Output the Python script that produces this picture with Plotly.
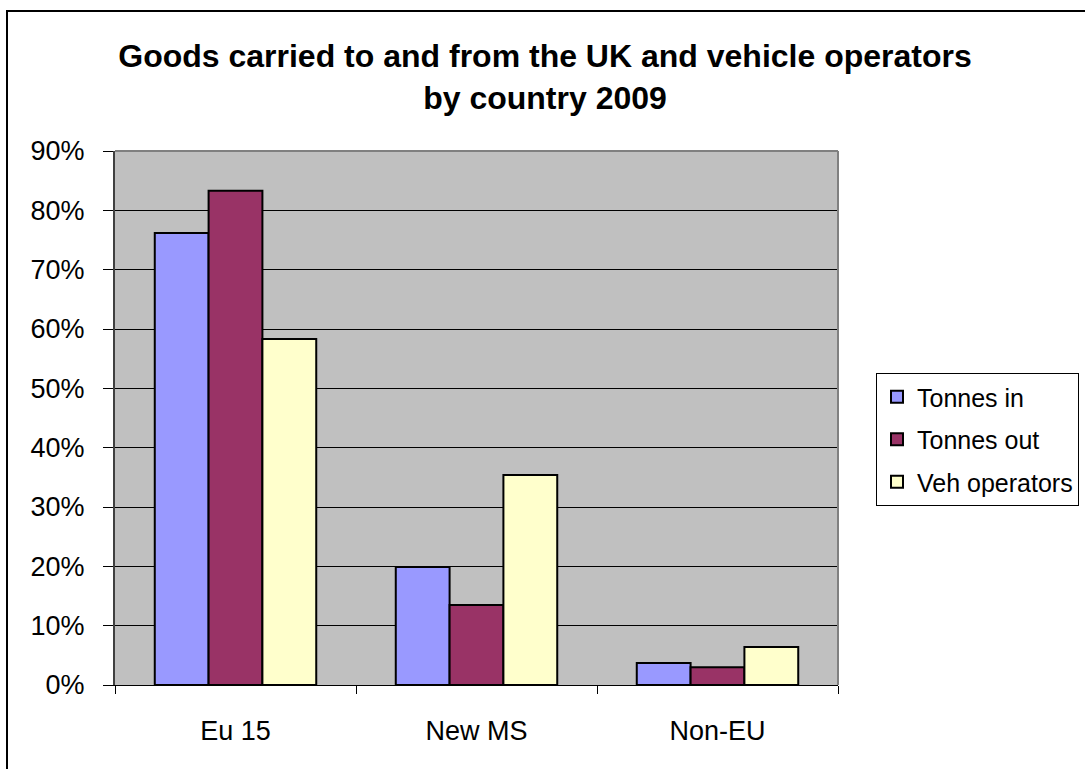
import plotly.graph_objects as go

categories = ["Eu 15", "New MS", "Non-EU"]
tonnes_in = [0.762, 0.199, 0.037]
tonnes_out = [0.833, 0.135, 0.030]
veh_operators = [0.583, 0.354, 0.064]
series_names = ["Tonnes in", "Tonnes out", "Veh operators"]
series_colors = ["#9999FF", "#993366", "#FFFFCC"]

W, H = 1085, 769
L, R, T, B = 115, 838, 151, 685

fig = go.Figure()
for name, vals, col in zip(series_names, [tonnes_in, tonnes_out, veh_operators], series_colors):
    fig.add_trace(go.Bar(
        x=categories, y=vals, name=name, legendgroup=name,
        marker=dict(color=col, line=dict(color="black", width=2)),
    ))

def px2x(px):
    return (px - L) / (R - L)

def py2y(py):
    return (B - py) / (B - T)

FONT = "Arial, Liberation Sans, sans-serif"

fig.update_layout(
    width=W, height=H,
    margin=dict(l=L, r=W - R, t=T, b=H - B, autoexpand=False),
    paper_bgcolor="white",
    plot_bgcolor="#C0C0C0",
    barmode="group",
    bargap=0.33,
    bargroupgap=0,
    font=dict(family=FONT, color="black"),
    title=dict(
        text="<b>Goods carried to and from the UK and vehicle operators<br>by country 2009</b>",
        x=545 / W, xanchor="center", xref="container",
        y=1 - 67 / H, yanchor="middle", yref="container",
        font=dict(size=32, family=FONT, color="black"),
    ),
    legend=dict(
        x=px2x(876), y=py2y(373), xanchor="left", yanchor="top",
        bordercolor="black", borderwidth=1, bgcolor="white",
        font=dict(size=25), tracegroupgap=7,
        traceorder="grouped",
    ),
    xaxis=dict(
        showline=True, linecolor="black", linewidth=1,
        ticks="outside", tickson="boundaries", ticklen=8, tickcolor="black",
        tickfont=dict(size=27), showgrid=False, ticklabelstandoff=22,
    ),
    yaxis=dict(
        range=[0, 0.9], dtick=0.1, tickformat=".0%",
        showline=True, linecolor="#404040", linewidth=2,
        ticks="outside", ticklen=10, tickcolor="black",
        showgrid=True, gridcolor="black", gridwidth=1,
        tickfont=dict(size=27), zeroline=False, ticklabelstandoff=13,
    ),
    showlegend=True,
)

# plot-area border (top and right grey)
fig.add_shape(type="line", xref="paper", yref="paper", x0=0, x1=1, y0=1, y1=1,
              line=dict(color="#808080", width=2))
fig.add_shape(type="line", xref="paper", yref="paper", x0=1, x1=1, y0=0, y1=1,
              line=dict(color="#808080", width=2))
# outer chart border (only left and top edges are visible in the frame)
fig.add_shape(type="line", xref="paper", yref="paper",
              x0=px2x(7), x1=px2x(7), y0=py2y(780), y1=py2y(10),
              line=dict(color="black", width=2))
fig.add_shape(type="line", xref="paper", yref="paper",
              x0=px2x(6), x1=px2x(1100), y0=py2y(11), y1=py2y(11),
              line=dict(color="black", width=2))

fig.write_html("out.html", config={"displayModeBar": False},
               post_script="document.body.style.margin='0';")
